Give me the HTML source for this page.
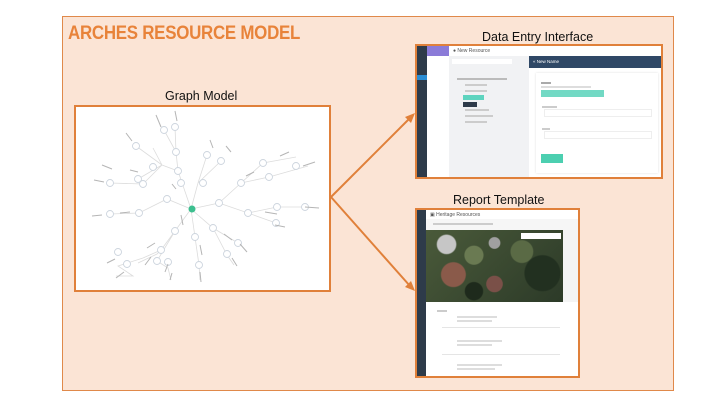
<!DOCTYPE html>
<html><head><meta charset="utf-8"><style>
*{margin:0;padding:0;box-sizing:border-box}
body{width:720px;height:405px;background:#fff;position:relative;overflow:hidden;font-family:"Liberation Sans",sans-serif}
.a{position:absolute}
.t{font-family:"Liberation Sans",sans-serif;color:#111;font-size:12.5px}
.g{background:#e4e4e4;height:2px;position:absolute}
</style></head><body>
<div class="a" style="left:62px;top:16px;width:612px;height:375px;background:#fbe4d5;border:1px solid #e0894a"></div>
<div class="a" style="left:68px;top:23px;font-size:19px;font-weight:bold;color:#e8833a;letter-spacing:-0.3px;transform:scaleX(0.89);transform-origin:0 0">ARCHES RESOURCE MODEL</div>
<div class="a t" style="left:165px;top:89px">Graph Model</div>
<div class="a t" style="left:482px;top:30px">Data Entry Interface</div>
<div class="a t" style="left:453px;top:193px">Report Template</div>

<!-- Graph box -->
<div class="a" style="left:74px;top:105px;width:257px;height:187px;background:#fff;border:2px solid #e0803a"></div>
<svg class="a" style="left:0;top:0" width="720" height="405">
<g stroke="#dcdcdc" stroke-width="0.8" fill="none">
<path d="M191 209 L178 171 L176 152 L175 127 M176 152 L164 130 M178 171 L162 165 L136 146 M162 165 L153 148 M162 165 L143 184 L110 183 M162 165 L138 179"/>
<path d="M191 209 L198 183 L207 155 M198 183 L221 161"/>
<path d="M191 209 L219 203 L241 183 L263 163 L296 157 M241 183 L269 177 L308 166 M219 203 L248 213 L277 207 L306 207 M248 213 L276 223"/>
<path d="M191 209 L213 228 L238 243 M213 228 L227 255 L234 265"/>
<path d="M191 209 L195 237 L199 265 L200 280"/>
<path d="M191 209 L175 231 L161 250 L143 258 L118 266 L133 276 L116 276 M161 250 L157 254 L138 263 M175 231 L157 261 L168 268 L171 280"/>
<path d="M191 209 L167 199 L139 213 L110 214"/>
</g>
<g fill="#fff" stroke="#cdd5de" stroke-width="0.9">
<circle cx="176" cy="152" r="3.5"/><circle cx="175" cy="127" r="3.5"/><circle cx="164" cy="130" r="3.5"/><circle cx="136" cy="146" r="3.5"/><circle cx="153" cy="167" r="3.5"/><circle cx="143" cy="184" r="3.5"/><circle cx="110" cy="183" r="3.5"/><circle cx="138" cy="179" r="3.5"/><circle cx="178" cy="171" r="3.5"/><circle cx="167" cy="199" r="3.5"/><circle cx="139" cy="213" r="3.5"/><circle cx="110" cy="214" r="3.5"/><circle cx="181" cy="183" r="3.5"/>
<circle cx="207" cy="155" r="3.5"/><circle cx="221" cy="161" r="3.5"/><circle cx="203" cy="183" r="3.5"/>
<circle cx="263" cy="163" r="3.5"/><circle cx="296" cy="166" r="3.5"/><circle cx="241" cy="183" r="3.5"/><circle cx="269" cy="177" r="3.5"/><circle cx="219" cy="203" r="3.5"/><circle cx="248" cy="213" r="3.5"/><circle cx="277" cy="207" r="3.5"/><circle cx="305" cy="207" r="3.5"/><circle cx="276" cy="223" r="3.5"/>
<circle cx="213" cy="228" r="3.5"/><circle cx="238" cy="243" r="3.5"/><circle cx="227" cy="254" r="3.5"/>
<circle cx="195" cy="237" r="3.5"/><circle cx="199" cy="265" r="3.5"/>
<circle cx="175" cy="231" r="3.5"/><circle cx="161" cy="250" r="3.5"/><circle cx="118" cy="252" r="3.5"/><circle cx="127" cy="264" r="3.5"/><circle cx="157" cy="261" r="3.5"/><circle cx="168" cy="262" r="3.5"/>
</g>
<circle cx="192" cy="209" r="3.5" fill="#3cbf8f"/>
<g stroke="#b5b5b5" stroke-width="1">
<path d="M156 115 l5 12 M175 111 l2 10 M126 133 l6 8 M130 170 l8 2 M94 180 l10 2 M102 165 l10 4 M92 216 l10 -1 M120 213 l10 -1 M210 140 l3 8 M226 146 l5 6 M280 156 l9 -4 M303 166 l12 -4 M246 176 l8 -4 M265 212 l12 2 M305 207 l14 1 M275 225 l10 2 M224 234 l8 6 M240 244 l7 8 M232 258 l5 8 M200 245 l2 10 M200 272 l1 10 M107 263 l8 -4 M116 278 l8 -6 M147 248 l8 -5 M145 265 l6 -8 M165 272 l3 -8 M170 280 l2 -7 M181 215 l2 10 M172 184 l4 5"/>
</g>
<!-- arrows -->
<g stroke="#e0803a" stroke-width="2" fill="#e0803a">
<line x1="331" y1="197" x2="410" y2="118"/>
<line x1="331" y1="197" x2="410" y2="286"/>
<polygon points="415,113 405,117 411,123" stroke="none"/>
<polygon points="415,291 405,287 411,281" stroke="none"/>
</g>
</svg>

<!-- Data entry -->
<div class="a" style="left:415px;top:44px;width:248px;height:135px;border:2px solid #e0803a;background:#fff;overflow:hidden">
 <div class="a" style="left:0;top:0;width:10px;height:131px;background:#2e3b4a"></div>
 <div class="a" style="left:0;top:29px;width:10px;height:5px;background:#2a8dd4"></div>
 <div class="a" style="left:10px;top:0;width:22px;height:10px;background:#8b7bd8"></div>
 <div class="a" style="left:36px;top:2px;font-size:5px;color:#555">● New Resource</div>
 <div class="a" style="left:32px;top:10px;width:80px;height:121px;background:#f1f2f4"></div>
 <div class="a" style="left:35px;top:13px;width:60px;height:5px;background:#fff"></div>
 <div class="a" style="left:40px;top:32px;width:50px;height:2px;background:#bbb"></div>
 <div class="g" style="left:48px;top:38px;width:22px;background:#ccc"></div>
 <div class="g" style="left:48px;top:44px;width:22px;background:#ccc"></div>
 <div class="a" style="left:46px;top:49px;width:21px;height:5px;background:#5ed4bf"></div>
 <div class="a" style="left:46px;top:56px;width:14px;height:5px;background:#2e3b4a"></div>
 <div class="g" style="left:48px;top:63px;width:24px;background:#ccc"></div>
 <div class="g" style="left:48px;top:69px;width:28px;background:#ccc"></div>
 <div class="g" style="left:48px;top:75px;width:22px;background:#ccc"></div>
 <div class="a" style="left:112px;top:10px;width:134px;height:12px;background:#2f4866"></div>
 <div class="a" style="left:116px;top:13px;font-size:4.5px;color:#fff">« New Name</div>
 <div class="a" style="left:119px;top:27px;width:122px;height:100px;background:#fff;box-shadow:0 0 2px #ddd"></div>
 <div class="g" style="left:124px;top:36px;width:10px;background:#aaa"></div>
 <div class="g" style="left:124px;top:40px;width:50px;background:#ddd"></div>
 <div class="a" style="left:124px;top:44px;width:63px;height:7px;background:#72d9c4"></div>
 <div class="g" style="left:125px;top:60px;width:15px;background:#ccc"></div>
 <div class="a" style="left:127px;top:63px;width:108px;height:8px;border:1px solid #eee"></div>
 <div class="g" style="left:125px;top:82px;width:8px;background:#ccc"></div>
 <div class="a" style="left:127px;top:85px;width:108px;height:8px;border:1px solid #eee"></div>
 <div class="a" style="left:124px;top:108px;width:22px;height:9px;background:#4ccfb0"></div>
</div>

<!-- Report -->
<div class="a" style="left:415px;top:208px;width:165px;height:170px;border:2px solid #e0803a;background:#fff;overflow:hidden">
 <div class="a" style="left:0;top:0;width:9px;height:166px;background:#2e3b4a"></div>
 <div class="a" style="left:13px;top:2px;font-size:5px;color:#555">▣ Heritage Resources</div>
 <div class="a" style="left:9px;top:9px;width:152px;height:11px;background:#f6f6f6"></div>
 <div class="g" style="left:16px;top:13px;width:60px;background:#ccc"></div>
 <div class="a" style="left:9px;top:20px;width:137px;height:72px;background:#3b4a34;background-image:radial-gradient(circle at 20% 62%,#8a5a4a 0 10%,transparent 11%),radial-gradient(circle at 15% 20%,#c6c6c6 0 7%,transparent 8%),radial-gradient(circle at 50% 18%,#a0a0a0 0 6%,transparent 7%),radial-gradient(circle at 50% 75%,#7a5048 0 9%,transparent 10%),radial-gradient(circle at 85% 60%,#223020 0 14%,transparent 15%),radial-gradient(circle at 70% 30%,#5a6a45 0 10%,transparent 11%),radial-gradient(circle at 35% 35%,#6a7a52 0 9%,transparent 10%),radial-gradient(circle at 35% 85%,#1e2a1c 0 8%,transparent 9%),linear-gradient(135deg,#4a5a3a,#2c3a28)"></div>
 <div class="a" style="left:104px;top:23px;width:40px;height:6px;background:#fff"></div>
 <div class="a" style="left:146px;top:20px;width:15px;height:72px;background:#f4f4f4"></div>
 <div class="g" style="left:20px;top:100px;width:10px;background:#ccc"></div>
 <div class="g" style="left:40px;top:106px;width:40px;background:#ddd"></div>
 <div class="g" style="left:40px;top:110px;width:35px;background:#ddd"></div>
 <div class="a" style="left:25px;top:117px;width:118px;height:1px;background:#e5e5e5"></div>
 <div class="g" style="left:40px;top:130px;width:45px;background:#ddd"></div>
 <div class="g" style="left:40px;top:134px;width:35px;background:#ddd"></div>
 <div class="a" style="left:25px;top:144px;width:118px;height:1px;background:#e5e5e5"></div>
 <div class="g" style="left:40px;top:154px;width:45px;background:#ddd"></div>
 <div class="g" style="left:40px;top:158px;width:38px;background:#ddd"></div>
</div>
</body></html>
